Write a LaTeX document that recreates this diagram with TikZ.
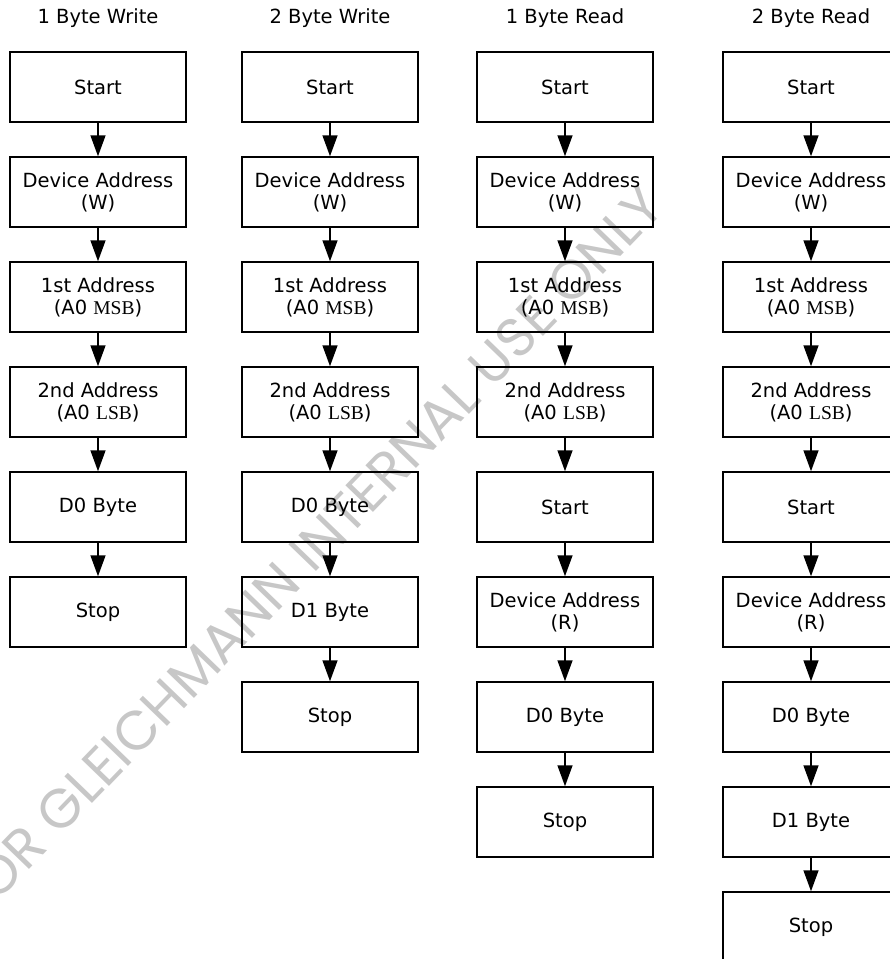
\documentclass[tikz,border=0pt]{standalone}
\usepackage{fontspec}
\setmainfont{DejaVu Sans}
\newfontfamily\serifpart{Liberation Serif}
\newfontfamily\wmfont{Poppins}
\usetikzlibrary{arrows.meta}
\begin{document}
\begin{tikzpicture}[x=1pt,y=-1pt,
  box/.style={draw, line width=1.5pt, minimum width=176pt, minimum height=70pt,
    inner sep=0pt, align=center, font=\fontsize{19.5}{22}\selectfont},
  title/.style={font=\fontsize{19.5}{22}\selectfont, inner sep=0pt},
  flow/.style={line width=1.5pt, -{Triangle[length=21pt,width=15pt]}},
  wm/.style={rotate=46, text=black!22, font=\wmfont\fontsize{55}{55}\selectfont}]
\useasboundingbox (0,0) rectangle (890,959);
\clip (0,0) rectangle (890,959);

% watermark (behind)
\node[wm] (wmark) at (308,553) {FOR GLEICHMANN INTERNAL USE ONLY};

% titles
\node[title] (t1) at (98,18) {1 Byte Write};
\node[title] (t2) at (330,18) {2 Byte Write};
\node[title] (t3) at (565,18) {1 Byte Read};
\node[title] (t4) at (811,18) {2 Byte Read};

% column 1
\node[box] (a0) at (98,87) {Start};
\node[box] (a1) at (98,192) {Device Address\\(W)};
\node[box] (a2) at (98,297) {1st Address\\(A0 {\serifpart MSB})};
\node[box] (a3) at (98,402) {2nd Address\\(A0 {\serifpart LSB})};
\node[box] (a4) at (98,507) {D0 Byte};
\node[box] (a5) at (98,612) {Stop};
\foreach \i/\j in {a0/a1,a1/a2,a2/a3,a3/a4,a4/a5} \draw[flow] (\i) -- (\j);

% column 2
\node[box] (b0) at (330,87) {Start};
\node[box] (b1) at (330,192) {Device Address\\(W)};
\node[box] (b2) at (330,297) {1st Address\\(A0 {\serifpart MSB})};
\node[box] (b3) at (330,402) {2nd Address\\(A0 {\serifpart LSB})};
\node[box] (b4) at (330,507) {D0 Byte};
\node[box] (b5) at (330,612) {D1 Byte};
\node[box] (b6) at (330,717) {Stop};
\foreach \i/\j in {b0/b1,b1/b2,b2/b3,b3/b4,b4/b5,b5/b6} \draw[flow] (\i) -- (\j);

% column 3
\node[box] (c0) at (565,87) {Start};
\node[box] (c1) at (565,192) {Device Address\\(W)};
\node[box] (c2) at (565,297) {1st Address\\(A0 {\serifpart MSB})};
\node[box] (c3) at (565,402) {2nd Address\\(A0 {\serifpart LSB})};
\node[box] (c4) at (565,507) {Start};
\node[box] (c5) at (565,612) {Device Address\\(R)};
\node[box] (c6) at (565,717) {D0 Byte};
\node[box] (c7) at (565,822) {Stop};
\foreach \i/\j in {c0/c1,c1/c2,c2/c3,c3/c4,c4/c5,c5/c6,c6/c7} \draw[flow] (\i) -- (\j);

% column 4
\node[box] (d0) at (811,87) {Start};
\node[box] (d1) at (811,192) {Device Address\\(W)};
\node[box] (d2) at (811,297) {1st Address\\(A0 {\serifpart MSB})};
\node[box] (d3) at (811,402) {2nd Address\\(A0 {\serifpart LSB})};
\node[box] (d4) at (811,507) {Start};
\node[box] (d5) at (811,612) {Device Address\\(R)};
\node[box] (d6) at (811,717) {D0 Byte};
\node[box] (d7) at (811,822) {D1 Byte};
\node[box] (d8) at (811,927) {Stop};
\foreach \i/\j in {d0/d1,d1/d2,d2/d3,d3/d4,d4/d5,d5/d6,d6/d7,d7/d8} \draw[flow] (\i) -- (\j);
\end{tikzpicture}
\end{document}
